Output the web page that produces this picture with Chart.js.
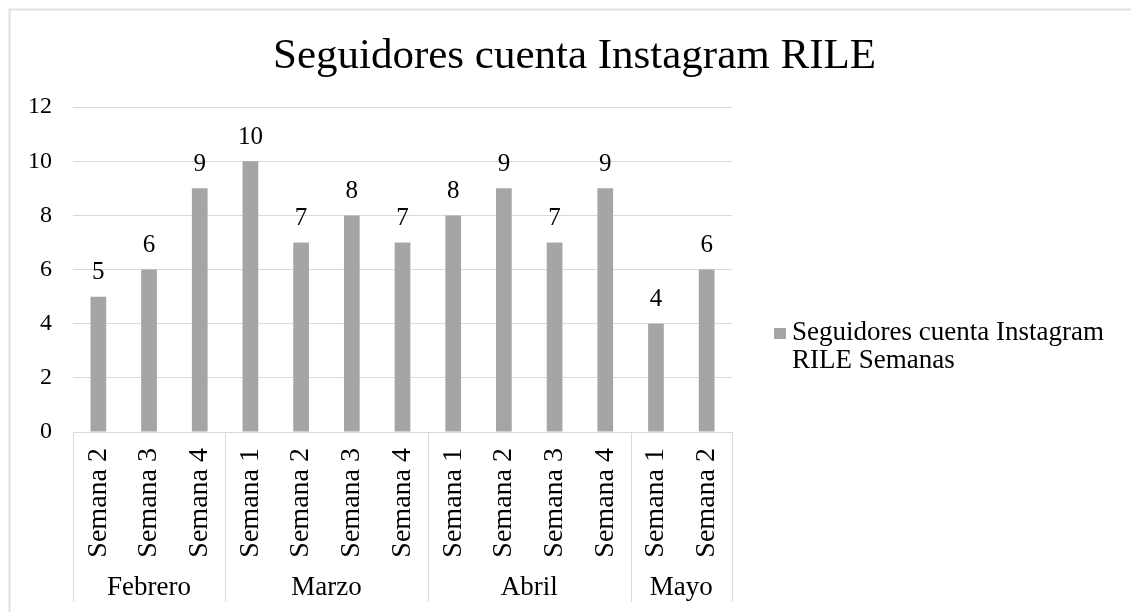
<!DOCTYPE html>
<html>
<head>
<meta charset="utf-8">
<title>Seguidores cuenta Instagram RILE</title>
<script src="https://cdn.jsdelivr.net/npm/chart.js@4.4.1/dist/chart.umd.min.js"></script>
<style>
  html, body { margin: 0; padding: 0; background: #fff; }
  canvas { display: block; }
</style>
</head>
<body>
<canvas id="chart" width="1131" height="612"></canvas>
<script>
const weeks = [
  "Semana 2", "Semana 3", "Semana 4",
  "Semana 1", "Semana 2", "Semana 3", "Semana 4",
  "Semana 1", "Semana 2", "Semana 3", "Semana 4",
  "Semana 1", "Semana 2"
];
const followers = [5, 6, 9, 10, 7, 8, 7, 8, 9, 7, 9, 4, 6];
const months = ["Febrero", "Marzo", "Abril", "Mayo"];
const weeksPerMonth = [3, 4, 4, 2];
const yMax = 12;
const yStep = 2;

const seriesName = "Seguidores cuenta Instagram RILE Semanas";
const FONT = "'Liberation Serif', 'Times New Roman', serif";
const GRID = "#d9d9d9";
const BAR = "#a5a5a5";

// white page + the light frame round the chart
const framePlugin = {
  id: "frame",
  beforeDraw(chart) {
    const ctx = chart.ctx;
    ctx.save();
    ctx.fillStyle = "#fff";
    ctx.fillRect(0, 0, chart.width, chart.height);
    ctx.strokeStyle = "#e0e0e0";
    ctx.lineWidth = 2;
    ctx.strokeRect(9.5, 9.5, chart.width + 50, chart.height + 50);
    ctx.restore();
  }
};

// month row under the week labels, with separators
const monthAxisPlugin = {
  id: "monthAxis",
  afterDraw(chart) {
    const ctx = chart.ctx;
    const x = chart.scales.x;
    const half = (x.getPixelForValue(1) - x.getPixelForValue(0)) / 2;
    const top = chart.chartArea.bottom;
    const bottom = chart.height - 10;

    const edges = [];
    let idx = 0;
    edges.push(x.getPixelForValue(0) - half);
    weeksPerMonth.forEach(n => {
      idx += n;
      edges.push(x.getPixelForValue(idx - 1) + half);
    });

    ctx.save();
    ctx.strokeStyle = GRID;
    ctx.lineWidth = 1;
    edges.forEach(e => {
      const px = Math.round(e) + 0.5;
      ctx.beginPath();
      ctx.moveTo(px, top);
      ctx.lineTo(px, bottom);
      ctx.stroke();
    });

    ctx.fillStyle = "#000";
    ctx.font = "27px " + FONT;
    ctx.textAlign = "center";
    ctx.textBaseline = "alphabetic";
    months.forEach((m, i) => {
      ctx.fillText(m, (edges[i] + edges[i + 1]) / 2, 595);
    });
    ctx.restore();
  }
};

// value above every bar
const valueLabelPlugin = {
  id: "valueLabels",
  afterDatasetsDraw(chart) {
    const ctx = chart.ctx;
    const meta = chart.getDatasetMeta(0);
    ctx.save();
    ctx.fillStyle = "#000";
    ctx.font = "25px " + FONT;
    ctx.textAlign = "center";
    ctx.textBaseline = "alphabetic";
    meta.data.forEach((bar, i) => {
      ctx.fillText(String(followers[i]), bar.x, bar.y - 17.5);
    });
    ctx.restore();
  }
};

// legend on the right, wrapped on two lines
const legendPlugin = {
  id: "sideLegend",
  afterDraw(chart) {
    const ctx = chart.ctx;
    const boxX = 774, textX = 792, firstBase = 340, lineGap = 28;
    ctx.save();
    ctx.font = "27px " + FONT;
    const words = seriesName.split(" ");
    const lines = [];
    let line = "";
    words.forEach(w => {
      const test = line ? line + " " + w : w;
      if (ctx.measureText(test).width > 330 && line) {
        lines.push(line);
        line = w;
      } else {
        line = test;
      }
    });
    lines.push(line);

    ctx.fillStyle = BAR;
    ctx.fillRect(boxX, firstBase - 12, 12, 11);
    ctx.fillStyle = "#000";
    ctx.textAlign = "left";
    ctx.textBaseline = "alphabetic";
    lines.forEach((l, i) => ctx.fillText(l, textX, firstBase + i * lineGap));
    ctx.restore();
  }
};

new Chart(document.getElementById("chart"), {
  type: "bar",
  data: {
    labels: weeks,
    datasets: [{
      label: seriesName,
      data: followers,
      backgroundColor: BAR,
      barPercentage: 0.31,
      categoryPercentage: 1
    }]
  },
  options: {
    responsive: false,
    animation: false,
    layout: { padding: { left: 18, right: 0, top: 0, bottom: 0 } },
    plugins: {
      legend: { display: false },
      tooltip: { enabled: false },
      title: {
        display: true,
        text: "Seguidores cuenta Instagram RILE",
        color: "#000",
        font: { family: FONT, size: 43, weight: "normal", lineHeight: 1.2 },
        padding: { top: 31, bottom: 24.5 }
      }
    },
    scales: {
      x: {
        grid: { display: false, drawTicks: false },
        border: { display: true, color: GRID },
        ticks: {
          color: "#000",
          font: { family: FONT, size: 28 },
          minRotation: 90,
          maxRotation: 90,
          autoSkip: false,
          padding: 16
        },
        afterFit(scale) { scale.height = 180; }
      },
      y: {
        min: 0,
        max: yMax,
        grid: { color: GRID, drawTicks: false },
        border: { display: false },
        ticks: {
          stepSize: yStep,
          color: "#000",
          font: { family: FONT, size: 24 },
          padding: 21
        },
        afterFit(scale) { scale.width = 55; }
      },
      // empty axis on the right only to keep room for the legend
      room: {
        type: "linear",
        position: "right",
        grid: { display: false },
        border: { display: false },
        ticks: { display: false },
        afterFit(scale) { scale.width = 399; }
      }
    }
  },
  plugins: [framePlugin, valueLabelPlugin, monthAxisPlugin, legendPlugin]
});
</script>
</body>
</html>
